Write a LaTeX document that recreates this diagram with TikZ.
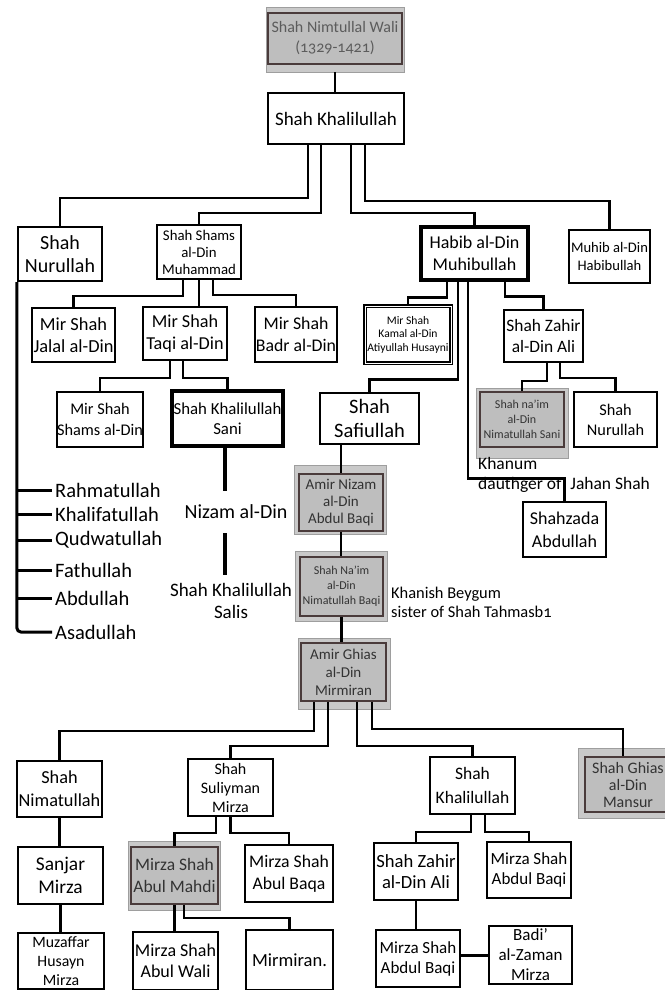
\documentclass[tikz,border=0pt]{standalone}
\usepackage{fontspec}
\setmainfont{Carlito}[Numbers=OldStyle]
\usetikzlibrary{calc}
\newcommand\fsz[2]{\fontsize{#1}{#2}\selectfont}
\definecolor{gOut}{HTML}{C9C9C9}
\definecolor{gOutLine}{HTML}{9E9E9E}
\definecolor{gIn}{HTML}{BEBEBE}
\definecolor{gInLine}{HTML}{4A3B3B}
\definecolor{gText}{HTML}{333333}
\definecolor{topText}{HTML}{5C5C5C}
\begin{document}
\begin{tikzpicture}[x=1pt,y=-1pt,
  box/.style={draw=black, line width=2.2pt, fill=white, rectangle, inner sep=0pt, align=center},
  thickbox/.style={box, line width=3.4pt},
  gouter/.style={draw=gOutLine, line width=0.8pt, fill=gOut, rectangle, inner sep=0pt},
  ginner/.style={box, fill=gIn, draw=gInLine, line width=1.8pt, text=gText},
  conn/.style={draw=black, line width=2.6pt, line join=miter},
  sonline/.style={draw=black, line width=3pt},
  sonname/.style={anchor=west, inner sep=3pt, font=\fsz{20.5}{24}},
  plain/.style={inner sep=2pt, align=center}]
\useasboundingbox (0,0) rectangle (664,990);
\fill[white] (0,0) rectangle (664,990);

% ---- top
\node[gouter, minimum width=138, minimum height=65] (nimtO) at (335,39.5) {};
\node[ginner, fill=gIn, text=topText, minimum width=134, minimum height=51, font=\fsz{16}{20}] (nimt) at (335,38.5) {Shah Nimtullal Wali\\(1329-1421)};
\node[box, minimum width=136, minimum height=51, font=\fsz{19}{23}] (khal) at (336,118.5) {Shah Khalilullah};

% ---- generation 2
\node[box, minimum width=84, minimum height=54, font=\fsz{20}{23}] (nurL) at (60,254) {Shah\\Nurullah};
\node[box, minimum width=84, minimum height=54, font=\fsz{14.8}{17}] (shams) at (199,252) {Shah Shams\\al-Din\\Muhammad};
\node[thickbox, minimum width=107, minimum height=53, font=\fsz{18}{22}] (habib) at (474.5,253.5) {Habib al-Din\\Muhibullah};
\node[box, minimum width=81, minimum height=53, font=\fsz{14.6}{18}] (muhib) at (609.5,256.5) {Muhib al-Din\\Habibullah};

% ---- generation 3
\node[box, minimum width=83, minimum height=54, font=\fsz{18.4}{22}] (jalal) at (73.5,335) {Mir Shah\\Jalal al-Din};
\node[box, minimum width=84, minimum height=53, font=\fsz{18.2}{22}] (taqi) at (185,333.5) {Mir Shah\\Taqi al-Din};
\node[box, minimum width=82, minimum height=55, font=\fsz{17.8}{22}] (badr) at (296,334.5) {Mir Shah\\Badr al-Din};
\node[thickbox, double, double distance=1pt, line width=1.6pt, minimum width=86, minimum height=57, font=\fsz{11.6}{13.5}] (kamal) at (408,334.5) {Mir Shah\\Kamal al-Din\\Atiyullah Husayni};
\node[box, minimum width=79, minimum height=52, font=\fsz{17.4}{21}] (zahir) at (543.5,336) {Shah Zahir\\al-Din Ali};

% ---- generation 4
\node[box, minimum width=84, minimum height=55, font=\fsz{16.3}{21}] (mshams) at (100,419.5) {Mir Shah\\Shams al-Din};
\node[thickbox, minimum width=111, minimum height=55, font=\fsz{16.8}{20}] (sani) at (227.5,418.5) {Shah Khalilullah\\Sani};
\node[box, minimum width=99, minimum height=51, font=\fsz{20.5}{24}] (safi) at (369.5,418.5) {Shah\\Safiullah};
\node[gouter, minimum width=92, minimum height=70] (naimO) at (522,423) {};
\node[ginner, minimum width=84, minimum height=55, font=\fsz{12}{15}] (naim) at (522,419.5) {Shah na’im\\al-Din\\Nimatullah Sani};
\node[box, minimum width=83, minimum height=55, font=\fsz{16.3}{20}] (nurR) at (615.5,419.5) {Shah\\Nurullah};

\node[anchor=west, inner sep=2pt, align=left, font=\fsz{17.5}{20}] (khanum) at (476,475) {Khanum\\dauthger of\hspace{9pt}Jahan Shah};
\node[box, minimum width=83, minimum height=55, font=\fsz{18}{23}] (shahz) at (564.5,529.5) {Shahzada\\Abdullah};

\node[gouter, minimum width=92, minimum height=69] (nizamO) at (340,499.5) {};
\node[ginner, minimum width=84, minimum height=57, font=\fsz{15}{17}] (nizam) at (341,502.5) {Amir Nizam\\al-Din\\Abdul Baqi};
\node[gouter, minimum width=92, minimum height=70] (nbaqiO) at (341,586) {};
\node[ginner, minimum width=83, minimum height=59, font=\fsz{12}{15}] (nbaqi) at (341.5,586.5) {Shah Na’im\\al-Din\\Nimatullah Baqi};
\node[anchor=west, inner sep=2pt, align=left, font=\fsz{16.4}{19}] (khanish) at (389,602) {Khanish Beygum\\sister of Shah Tahmasb1};
\node[gouter, minimum width=92, minimum height=71] (ghiasO) at (344,673.5) {};
\node[ginner, minimum width=85, minimum height=58, font=\fsz{15}{18}] (ghias) at (343.5,672) {Amir Ghias\\al-Din\\Mirmiran};

% ---- sons of Shah Nurullah
\node[sonname] (rahm) at (52,490) {Rahmatullah};
\node[sonname] (khalif) at (52,514) {Khalifatullah};
\node[sonname] (qudw) at (52,540) {Qudwatullah};
\node[sonname] (fath) at (52,570) {Fathullah};
\node[sonname] (abdu) at (52,598) {Abdullah};
\node[sonname] (asad) at (52,632) {Asadullah};

% ---- line of Sani
\node[plain, minimum height=42, font=\fsz{20}{24}] (nizamT) at (236,512) {Nizam al-Din};
\node[plain, inner ysep=8pt, font=\fsz{19}{22}] (salis) at (231,601) {Shah Khalilullah\\Salis};

% ---- children of Amir Ghias
\node[box, minimum width=85, minimum height=56, font=\fsz{18.3}{23}] (snim) at (59.5,789) {Shah\\Nimatullah};
\node[box, minimum width=85, minimum height=57, font=\fsz{16}{19}] (suli) at (230.5,787.5) {Shah\\Suliyman\\Mirza};
\node[box, minimum width=85, minimum height=57, font=\fsz{17.5}{24}] (khal2) at (472.5,785.5) {Shah\\Khalilullah};
\node[gouter, minimum width=96, minimum height=70] (gmansO) at (626,783) {};
\node[ginner, minimum width=86, minimum height=55, font=\fsz{16}{17}] (gmans) at (628,784.5) {Shah Ghias\\al-Din\\Mansur};

% ---- bottom rows
\node[box, minimum width=85, minimum height=57, font=\fsz{19.4}{23}] (sanjar) at (60.5,875.5) {Sanjar\\Mirza};
\node[box, minimum width=86, minimum height=56, font=\fsz{15.8}{19}] (muzaf) at (61,961) {Muzaffar\\Husayn\\Mirza};
\node[gouter, minimum width=92, minimum height=69] (mahdiO) at (174,875.5) {};
\node[ginner, minimum width=87, minimum height=57, font=\fsz{17.5}{22}] (mahdi) at (174.5,875.5) {Mirza Shah\\Abul Mahdi};
\node[box, minimum width=88, minimum height=57, font=\fsz{17.7}{22}] (baqa) at (289,873.5) {Mirza Shah\\Abul Baqa};
\node[box, minimum width=85, minimum height=58, font=\fsz{18}{21}] (wali) at (175.5,961) {Mirza Shah\\Abul Wali};
\node[box, minimum width=87, minimum height=60, font=\fsz{18.5}{22}] (mirm) at (289.5,960) {Mirmiran.};
\node[box, minimum width=84, minimum height=57, font=\fsz{18.6}{21}] (zahir2) at (416,871.5) {Shah Zahir\\al-Din Ali};
\node[box, minimum width=84, minimum height=56, font=\fsz{17}{20}] (abaqi) at (529,870) {Mirza Shah\\Abdul Baqi};
\node[box, minimum width=84, minimum height=57, font=\fsz{17}{20}] (abaqi2) at (418,958.5) {Mirza Shah\\Abdul Baqi};
\node[box, minimum width=83, minimum height=58, font=\fsz{17}{20}] (badi) at (530.5,955) {Badi’\\al-Zaman\\Mirza};

% ---- connectors
\draw[conn] (nimtO.south) -- (nimtO.south |- khal.north);
\draw[conn] ([xshift=-28]khal.south) -- ++(0,53) -| (nurL.north);
\draw[conn] ([xshift=-15]khal.south) -- ++(0,68) -| (shams.north);
\draw[conn] ([xshift=15]khal.south) -- ++(0,68) -| (habib.north);
\draw[conn] ([xshift=29]khal.south) -- ++(0,56) -| (muhib.north);

\draw[conn] ([xshift=-16]shams.south) -- ++(0,16) -| (jalal.north);
\draw[conn] (shams.south) -- (shams.south |- taqi.north);
\draw[conn] ([xshift=14]shams.south) -- ++(0,15) -| (badr.north);

\draw[conn] ([xshift=-27.5]habib.south) -- ++(0,16) -| (kamal.north);
\draw[conn] ([xshift=-16.5]habib.south) -- ++(0,98) -| (safi.north);
\draw[conn] ([xshift=-6.5]habib.south) -- ++(0,197) -| (shahz.north);
\draw[conn] ([xshift=30.5]habib.south) -- ++(0,15) -| (zahir.north);

\draw[conn] ([xshift=-15]taqi.south) -- ++(0,17) -| (mshams.north);
\draw[conn] ([xshift=-2]taqi.south) -- ++(0,17) -| (sani.north);

\draw[conn] ([xshift=3.5]zahir.south) -- ++(0,18) -| (naim.north);
\draw[conn] ([xshift=16.5]zahir.south) -- ++(0,15) -| (nurR.north);

\draw[conn] (nizam.north |- safi.south) -- (nizam.north);
\draw[conn] (nizam.south) -- (nizam.south |- nbaqi.north);
\draw[conn] (nbaqi.south) -- (nbaqi.south |- ghias.north);

\coordinate (nzx) at ([xshift=-2.5]sani.south);
\draw[conn, line width=3.6pt] (nzx) -- (nzx |- nizamT.north);
\draw[conn, line width=3.6pt] (nzx |- nizamT.south) -- (nzx |- salis.north);

\draw[sonline, rounded corners=4pt] (nurL.south west) -- (nurL.south west |- asad.west) -- (asad.west);
\foreach \s in {rahm,khalif,qudw,fath,abdu}
  \draw[sonline] (nurL.south west |- \s.west) -- (\s.west);

\draw[conn] ([xshift=-29.5]ghias.south) -- ++(0,29) -| (snim.north);
\draw[conn] ([xshift=-15.5]ghias.south) -- ++(0,44) -| (suli.north);
\draw[conn] ([xshift=13.5]ghias.south) -- ++(0,44) -| (khal2.north);
\draw[conn] ([xshift=28.5]ghias.south) -- ++(0,27) -| ([xshift=-5]gmans.north);

\draw[conn] (snim.south) -- (snim.south |- sanjar.north);
\draw[conn] (sanjar.south) -- (sanjar.south |- muzaf.north);
\draw[conn] ([xshift=-14.5]suli.south) -- ++(0,16) -| (mahdi.north);
\draw[conn] (suli.south) -- ++(0,16) -| (baqa.north);
\draw[conn] (mahdi.south) -- (mahdi.south |- wali.north);
\draw[conn] ([xshift=9.5]mahdi.south) -- ++(0,13) -| (mirm.north);
\draw[conn] ([xshift=-1.5]khal2.south) -- ++(0,17) -| (zahir2.north);
\draw[conn] ([xshift=12.5]khal2.south) -- ++(0,17) -| (abaqi.north);
\draw[conn] (zahir2.south) -- (zahir2.south |- abaqi2.north);
\draw[conn, line width=3pt] (badi.west -| abaqi2.east) -- (badi.west);
\end{tikzpicture}
\end{document}
